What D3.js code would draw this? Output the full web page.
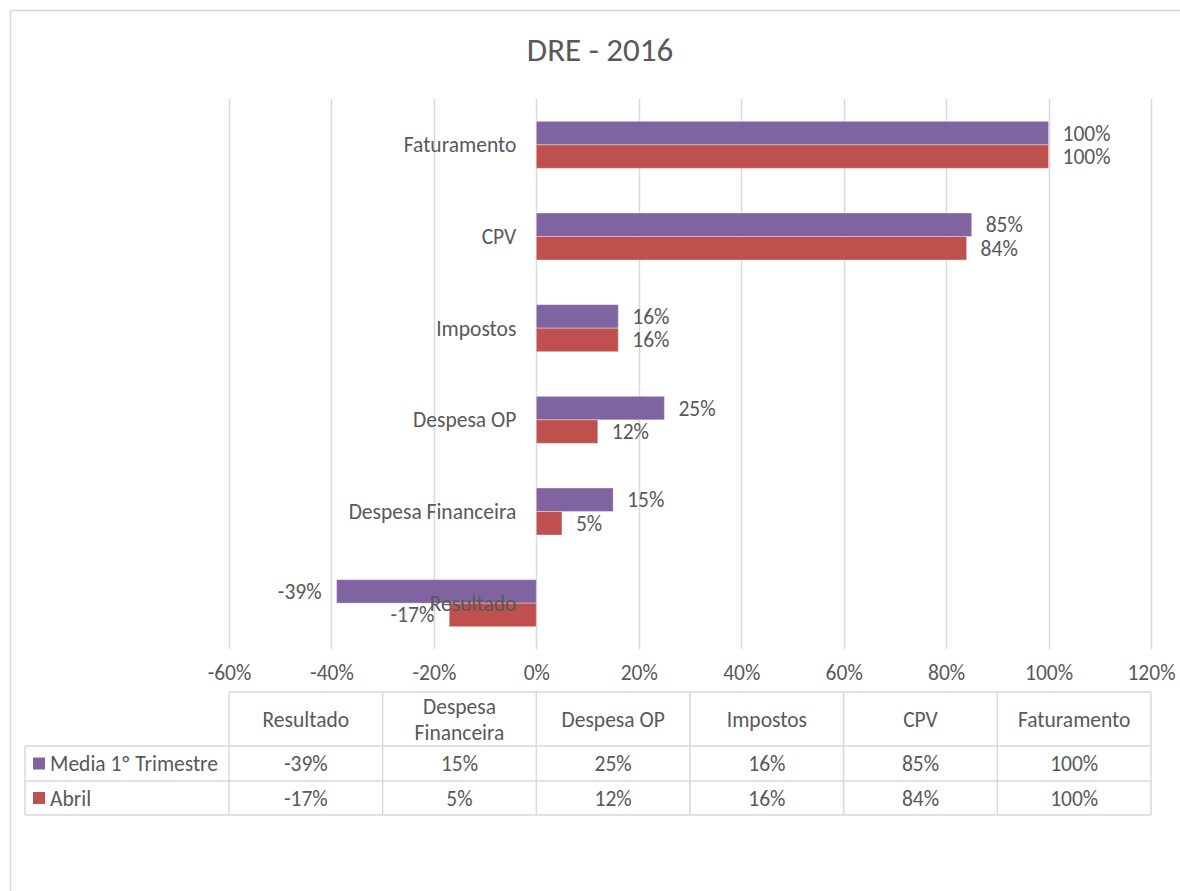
<!DOCTYPE html>
<html>
<head>
<meta charset="utf-8">
<script src="https://cdn.jsdelivr.net/npm/d3@7"></script>
<style>
  body { margin: 0; background: #fff; }
  text { font-family: Calibri, Carlito, Lato, sans-serif; fill: #595959; }
</style>
</head>
<body>
<div id="chart"></div>
<script>
// Chart data
const categories = ["Resultado", "Despesa Financeira", "Despesa OP", "Impostos", "CPV", "Faturamento"]
const seriesNames = ["Media 1º Trimestre", "Abril"]
const mediaValues = [-39, 15, 25, 16, 85, 100]
const abrilValues = [-17, 5, 12, 16, 84, 100]
const xTicks = [-60, -40, -20, 0, 20, 40, 60, 80, 100, 120]
const colors = ["#8064A2", "#C0504D"]

const width = 1180, height = 891
const plotLeft = 229, plotRight = 1151, plotTop = 99, plotBottom = 649
const fs = 21.5

const svg = d3.select("#chart").append("svg")
  .attr("width", width).attr("height", height)

// Outer chart border
svg.append("rect")
  .attr("x", 10.5).attr("y", 10.5)
  .attr("width", 1300).attr("height", 1000)
  .attr("fill", "none").attr("stroke", "#d9d9d9").attr("stroke-width", 1.5)

// Title
svg.append("text")
  .attr("x", 600).attr("y", 61)
  .attr("text-anchor", "middle")
  .attr("font-size", 33)
  .text("DRE - 2016")

// Scales
const xScale = d3.scaleLinear().domain([-60, 120]).range([plotLeft, plotRight])
const yScale = d3.scaleBand()
  .domain(categories.slice().reverse())
  .range([plotTop, plotBottom])
  .paddingInner(0.487).paddingOuter(0.2435)
const ySub = d3.scaleBand().domain([0, 1]).range([0, yScale.bandwidth()])

// Grid lines
svg.append("g").selectAll("line")
  .data(xTicks).enter().append("line")
  .attr("x1", d => Math.round(xScale(d)) + 0.5)
  .attr("x2", d => Math.round(xScale(d)) + 0.5)
  .attr("y1", plotTop).attr("y2", plotBottom)
  .attr("stroke", "#d9d9d9").attr("stroke-width", 1.5)

// Axis labels
const xAxis = d3.axisBottom(xScale).tickValues(xTicks).tickSize(0).tickFormat(d => d + "%")
const axisG = svg.append("g")
  .attr("transform", `translate(0,${plotBottom + 13})`)
  .call(xAxis)
axisG.select(".domain").remove()
axisG.selectAll("text").attr("font-size", fs).attr("fill", "#595959")
  .style("font-family", "Calibri, Carlito, Lato, sans-serif")

// Bars
const series = [mediaValues, abrilValues]
const rows = []
categories.forEach((c, i) => {
  series.forEach((vals, s) => rows.push({ cat: c, s: s, v: vals[i] }))
})

svg.append("g").selectAll("rect")
  .data(rows).enter().append("rect")
  .attr("x", d => xScale(Math.min(0, d.v)))
  .attr("y", d => yScale(d.cat) + ySub(d.s))
  .attr("width", d => Math.abs(xScale(d.v) - xScale(0)))
  .attr("height", ySub.bandwidth())
  .attr("fill", d => colors[d.s])
  .attr("stroke", "#ffffff").attr("stroke-opacity", 0.35).attr("stroke-width", 1)

// Data labels
svg.append("g").selectAll("text")
  .data(rows).enter().append("text")
  .attr("x", d => d.v >= 0 ? xScale(d.v) + 14 : xScale(d.v) - 15)
  .attr("y", d => yScale(d.cat) + ySub(d.s) + ySub.bandwidth() / 2)
  .attr("dy", "0.35em")
  .attr("text-anchor", d => d.v >= 0 ? "start" : "end")
  .attr("font-size", fs)
  .text(d => d.v + "%")

// Category labels
svg.append("g").selectAll("text")
  .data(categories).enter().append("text")
  .attr("x", xScale(0) - 20)
  .attr("y", d => yScale(d) + yScale.bandwidth() / 2)
  .attr("dy", "0.35em")
  .attr("text-anchor", "end")
  .attr("font-size", fs)
  .text(d => d)

// Data table
const colScale = d3.scaleBand().domain(categories).range([plotLeft, plotRight])
const tTop = 692, hRow = 746, r1 = 781, r2 = 815, legLeft = 25
const table = svg.append("g").attr("stroke", "#d9d9d9").attr("stroke-width", 1.5)
const hLines = [[plotLeft, plotRight, tTop], [legLeft, plotRight, hRow], [legLeft, plotRight, r1], [legLeft, plotRight, r2]]
table.selectAll(".h").data(hLines).enter().append("line")
  .attr("x1", d => d[0]).attr("x2", d => d[1])
  .attr("y1", d => d[2]).attr("y2", d => d[2])
const vx = categories.map(c => colScale(c)).concat([plotRight])
table.selectAll(".v").data(vx).enter().append("line")
  .attr("x1", d => d).attr("x2", d => d)
  .attr("y1", tTop).attr("y2", r2)
table.append("line")
  .attr("x1", legLeft).attr("x2", legLeft).attr("y1", hRow).attr("y2", r2)

// Header texts
const header = svg.append("g")
categories.forEach(c => {
  const cx = colScale(c) + colScale.bandwidth() / 2
  const t = header.append("text").attr("x", cx).attr("text-anchor", "middle").attr("font-size", fs)
  if (c === "Despesa Financeira") {
    t.append("tspan").attr("x", cx).attr("y", 706).attr("dy", "0.35em").text("Despesa")
    t.append("tspan").attr("x", cx).attr("y", 732).attr("dy", "0.35em").text("Financeira")
  } else {
    t.attr("y", 719).attr("dy", "0.35em").text(c)
  }
})

// Value rows
const rowY = [(hRow + r1) / 2, (r1 + r2) / 2]
series.forEach((vals, s) => {
  svg.append("g").selectAll("text")
    .data(vals).enter().append("text")
    .attr("x", (d, i) => colScale(categories[i]) + colScale.bandwidth() / 2)
    .attr("y", rowY[s]).attr("dy", "0.35em")
    .attr("text-anchor", "middle").attr("font-size", fs)
    .text(d => d + "%")
  // Legend key
  svg.append("rect")
    .attr("x", 33).attr("y", rowY[s] - 6)
    .attr("width", 12).attr("height", 12)
    .attr("fill", colors[s])
  svg.append("text")
    .attr("x", 50).attr("y", rowY[s]).attr("dy", "0.35em")
    .attr("font-size", fs)
    .text(seriesNames[s])
})
</script>
</body>
</html>
